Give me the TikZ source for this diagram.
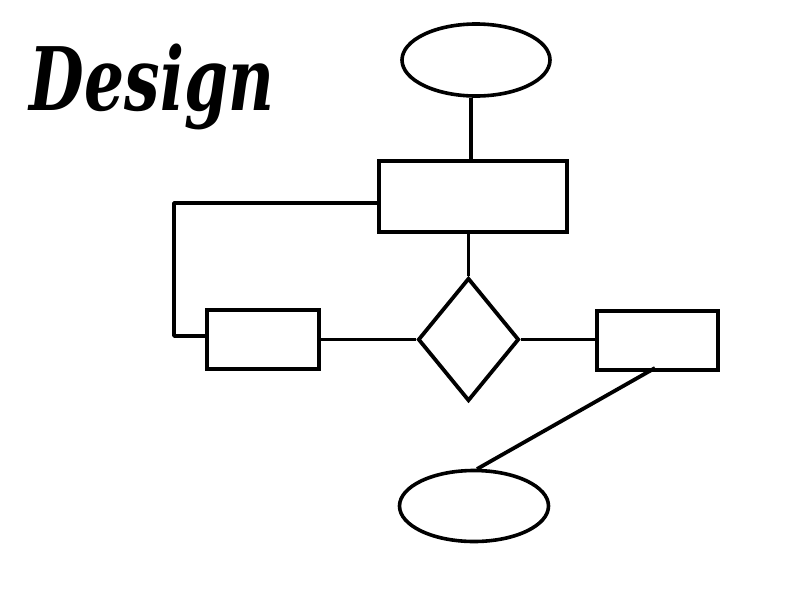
\documentclass[tikz,border=0pt]{standalone}
\usepackage{fontspec}
\usepackage{graphicx}
\usetikzlibrary{shapes.geometric}
\begin{document}
\begin{tikzpicture}[x=1pt,y=-1pt,line width=3.8pt,
  boxnode/.style={draw,rectangle,inner sep=0pt,line width=4pt},
  ovalnode/.style={draw,ellipse,inner sep=0pt,line width=3.6pt},
  decnode/.style={draw,diamond,inner sep=0pt,line width=3.8pt},
  conn/.style={line width=3.8pt}]
\useasboundingbox (0,0) rectangle (800,600);
\node[ovalnode,minimum width=148pt,minimum height=72pt] (top) at (476,60) {};
\node[boxnode,minimum width=188pt,minimum height=71pt] (main) at (473,196.5) {};
\node[decnode,minimum width=101pt,minimum height=123pt] (dec) at (468.5,339.5) {};
\node[boxnode,minimum width=112pt,minimum height=59pt] (left) at (263,339.5) {};
\node[boxnode,minimum width=121pt,minimum height=59pt] (right) at (657.5,340) {};
\node[ovalnode,minimum width=149pt,minimum height=71pt] (bot) at (474,506) {};
\coordinate (c1) at (174,203);
\coordinate (c2) at (174,336);
\draw[conn] (top.south -| 471,0) -- (main.north -| 471,0);
\draw[conn] (main.south -| dec.north) -- (dec.north);
\draw[conn] (left.east |- dec.west) -- (dec.west);
\draw[conn] (dec.east) -- (right.west |- dec.east);
\draw[conn,line join=round] (main.west |- c1) -- (c1) -- (c2) -- (left.west |- c2);
\draw[conn] (655,368) -- (477,469);
\node[anchor=north west,inner sep=0pt] (title) at (28,42) {\resizebox*{244pt}{86pt}{\fontspec{DejaVu Serif}\bfseries\itshape Design}};
\end{tikzpicture}
\end{document}
